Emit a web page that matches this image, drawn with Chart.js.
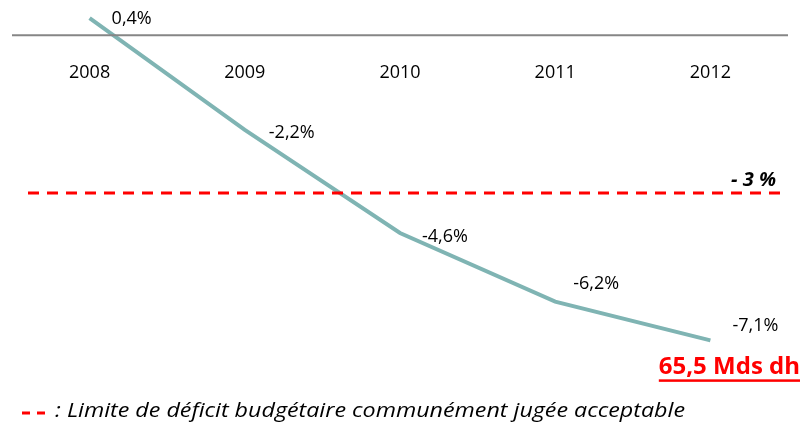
<!DOCTYPE html>
<html lang="fr">
<head>
<meta charset="UTF-8">
<title>deficit</title>
<script src="https://cdn.jsdelivr.net/npm/chart.js"></script>
<style>
  html, body { margin: 0; padding: 0; background: #fff; }
  canvas { display: block; }
</style>
</head>
<body>
<canvas id="myChart" width="800" height="424"></canvas>
<script>
// data
const years = ["2008", "2009", "2010", "2011", "2012"];
const deficit = [0.4, -2.2, -4.6, -6.2, -7.1];
const pointLabels = ["0,4%", "-2,2%", "-4,6%", "-6,2%", "-7,1%"];
// the dashed limit sits at this height on the line's scale in the source picture
const limitLineAt = -3.67;
const limitLabel = "- 3 %";
const lastNote = "65,5 Mds dh";
const legendText = ": Limite de déficit budgétaire communément jugée acceptable";

const font = "'Open Sans', Lato, sans-serif";

// per-label offsets from the point (x, y)
const labelShift = [[22, 1], [24, 3], [22, 4], [18, -18], [22, -14]];

const extras = {
  id: "extras",
  afterDatasetsDraw(chart) {
    const ctx = chart.ctx;
    const x = chart.scales.x, y = chart.scales.y;
    const area = chart.chartArea;
    const y0 = y.getPixelForValue(0);
    ctx.save();

    // zero axis + year labels
    ctx.strokeStyle = "#868686";
    ctx.lineWidth = 2;
    ctx.beginPath();
    ctx.moveTo(area.left, y0);
    ctx.lineTo(area.right, y0);
    ctx.stroke();
    ctx.fillStyle = "#000";
    ctx.font = "18px " + font;
    ctx.textAlign = "center";
    ctx.textBaseline = "middle";
    years.forEach((yr, i) => ctx.fillText(yr, x.getPixelForValue(i), y0 + 38));

    // point labels
    ctx.textAlign = "left";
    const meta = chart.getDatasetMeta(0);
    meta.data.forEach((pt, i) => {
      ctx.fillText(pointLabels[i], pt.x + labelShift[i][0], pt.y + labelShift[i][1]);
    });

    // dashed limit
    const yl = y.getPixelForValue(limitLineAt);
    ctx.strokeStyle = "#ff0000";
    ctx.lineWidth = 3;
    ctx.setLineDash([11, 8]);
    ctx.beginPath();
    ctx.moveTo(28, yl);
    ctx.lineTo(784, yl);
    ctx.stroke();
    ctx.setLineDash([]);
    ctx.fillStyle = "#000";
    ctx.font = "italic bold 20px " + font;
    ctx.textAlign = "right";
    ctx.fillText(limitLabel, 776, yl - 13);

    // note under last point
    const last = meta.data[meta.data.length - 1];
    ctx.fillStyle = "#ff0000";
    ctx.font = "bold 24px " + font;
    ctx.textAlign = "right";
    ctx.fillText(lastNote, 800, last.y + 27);
    const w = ctx.measureText(lastNote).width;
    ctx.fillRect(800 - w, last.y + 39, w, 2.5);

    // legend
    ctx.strokeStyle = "#ff0000";
    ctx.lineWidth = 3;
    ctx.setLineDash([8, 7]);
    ctx.beginPath();
    ctx.moveTo(22, 413);
    ctx.lineTo(49, 413);
    ctx.stroke();
    ctx.setLineDash([]);
    ctx.fillStyle = "#000";
    ctx.font = "italic 20px " + font;
    ctx.textAlign = "left";
    // the source picture is a bit stretched sideways; fit the legend line to its width
    const lw = ctx.measureText(legendText).width;
    ctx.translate(55, 411);
    ctx.scale(630 / lw, 1);
    ctx.fillText(legendText, 0, 0);

    ctx.restore();
  }
};

new Chart("myChart", {
  type: "line",
  data: {
    labels: years,
    datasets: [{
      data: deficit,
      borderColor: "#7fb4b3",
      borderWidth: 4,
      pointRadius: 0,
      tension: 0,
      fill: false
    }]
  },
  options: {
    responsive: false,
    animation: false,
    layout: { padding: { top: 1, bottom: 45, left: 12, right: 12 } },
    scales: {
      x: { display: false, offset: true },
      y: { display: false, min: -8, max: 0.8 }
    },
    plugins: {
      legend: { display: false },
      tooltip: { enabled: false }
    }
  },
  plugins: [extras]
});
</script>
</body>
</html>
